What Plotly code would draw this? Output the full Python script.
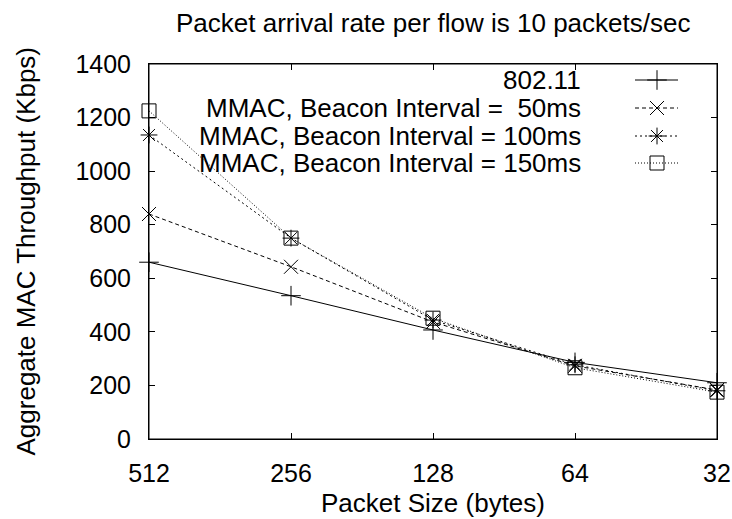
import math
import plotly.graph_objects as go

packet_sizes = [512, 256, 128, 64, 32]
tick_labels = ["512", "256", "128", "64", "32"]
y_ticks = [0, 200, 400, 600, 800, 1000, 1200, 1400]

series_names = [
    "802.11",
    "MMAC, Beacon Interval =  50ms",
    "MMAC, Beacon Interval = 100ms",
    "MMAC, Beacon Interval = 150ms",
]
thr_80211 = [660, 535, 407, 286, 210]
thr_50ms = [840, 643, 437, 273, 183]
thr_100ms = [1135, 750, 444, 277, 180]
thr_150ms = [1225, 750, 451, 266, 175]
series_values = [thr_80211, thr_50ms, thr_100ms, thr_150ms]

symbols = ["cross-thin", "x-thin", "asterisk-open", "square-open"]
dashes = ["solid", "4px,3px", "2px,3px", "1px,2px"]
msizes = [14, 14, 14, 14]

FONT = "Liberation Sans, Arial, Helvetica, sans-serif"
W, H = 732, 519
L, R, T, B = 149, 15, 64, 80
PW, PH = W - L - R, H - T - B


def px_x(px):
    return (px - L) / PW


def px_y(py):
    return (H - B - py) / PH


fig = go.Figure()

for name, vals, sym, dash, ms in zip(series_names, series_values, symbols, dashes, msizes):
    fig.add_trace(go.Scatter(
        x=packet_sizes, y=vals, mode="lines+markers", name=name,
        line=dict(color="black", width=1, dash=dash),
        marker=dict(symbol=sym, size=ms, color="black",
                    line=dict(color="black", width=1)),
        showlegend=False, cliponaxis=False,
    ))

# custom gnuplot-style legend (text right-aligned, sample to the right)
leg_rows_px = [80, 108, 136, 163]
for name, sym, dash, ms, py in zip(series_names, symbols, dashes, msizes, leg_rows_px):
    yy = px_y(py)
    fig.add_trace(go.Scatter(
        x=[px_x(635), px_x(678)], y=[yy, yy], mode="lines", xaxis="x2", yaxis="y2",
        line=dict(color="black", width=1, dash=dash), showlegend=False, hoverinfo="skip"))
    fig.add_trace(go.Scatter(
        x=[px_x(657)], y=[yy], mode="markers", xaxis="x2", yaxis="y2",
        marker=dict(symbol=sym, size=ms, color="black", line=dict(color="black", width=1)),
        showlegend=False, hoverinfo="skip"))
    fig.add_annotation(x=px_x(583), y=yy, xref="paper", yref="paper", text=name,
                       showarrow=False, xanchor="right", yanchor="middle",
                       font=dict(family=FONT, size=26, color="black"))

# title and axis titles
fig.add_annotation(x=0.5, y=px_y(23), xref="paper", yref="paper",
                   text="Packet arrival rate per flow is 10 packets/sec",
                   showarrow=False, xanchor="center", yanchor="middle",
                   font=dict(family=FONT, size=26, color="black"))
fig.add_annotation(x=0.5, y=px_y(503), xref="paper", yref="paper",
                   text="Packet Size (bytes)",
                   showarrow=False, xanchor="center", yanchor="middle",
                   font=dict(family=FONT, size=26, color="black"))
fig.add_annotation(x=px_x(25), y=0.5, xref="paper", yref="paper",
                   text="Aggregate MAC Throughput (Kbps)", textangle=-90,
                   showarrow=False, xanchor="center", yanchor="middle",
                   font=dict(family=FONT, size=26, color="black"))

# plot border (gnuplot-style box)
fig.add_shape(type="rect", xref="paper", yref="paper", x0=0, x1=1, y0=0, y1=1,
              line=dict(color="black", width=1), layer="above")

eps = 1e-6
fig.update_layout(
    width=W, height=H,
    margin=dict(l=L, r=R, t=T, b=B, autoexpand=False),
    paper_bgcolor="white", plot_bgcolor="white",
    font=dict(family=FONT, size=25, color="black"),
    xaxis=dict(type="log",
               range=[math.log10(max(packet_sizes)) + eps, math.log10(min(packet_sizes)) - eps],
               tickvals=packet_sizes, ticktext=tick_labels,
               ticks="inside", ticklen=6, tickcolor="black",
               showline=True, linecolor="black", linewidth=1, mirror="ticks",
               showgrid=False, zeroline=False, ticklabelstandoff=12,
               automargin=False, tickfont=dict(size=25)),
    yaxis=dict(range=[0, 1400], tickvals=y_ticks,
               ticks="inside", ticklen=6, tickcolor="black",
               showline=True, linecolor="black", linewidth=1, mirror="ticks",
               showgrid=False, zeroline=False, ticklabelstandoff=12,
               automargin=False, tickfont=dict(size=25)),
    xaxis2=dict(overlaying="x", range=[0, 1], visible=False),
    yaxis2=dict(overlaying="y", range=[0, 1], visible=False),
)

fig.write_html(
    "out.html",
    config={"displayModeBar": False},
    post_script="document.body.style.margin='0';document.body.style.padding='0';"
                "document.documentElement.style.overflow='hidden';",
)
